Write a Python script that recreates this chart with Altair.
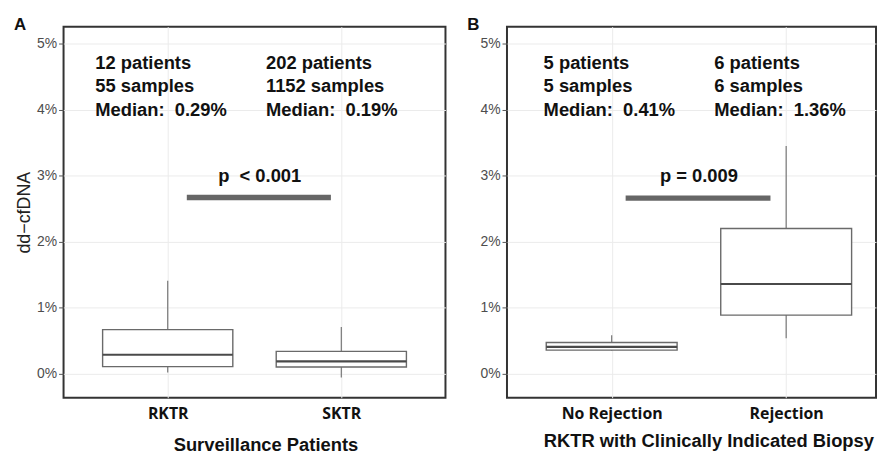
import altair as alt
import pandas as pd

# ---------------- data ----------------
# Panel A: surveillance patients
a_cats = ["RKTR", "SKTR"]
a_pos = [1, 2]
a_lower = [0.02, -0.055]
a_q1 = [0.11, 0.105]
a_median = [0.29, 0.19]
a_q3 = [0.67, 0.34]
a_upper = [1.41, 0.71]
a_patients = [12, 202]
a_samples = [55, 1152]
a_median_txt = ["0.29%", "0.19%"]
a_ann_x = [0.583, 1.566]
a_p_text = "p\u00a0 < 0.001"
a_p_bar = [1.11, 1.94, 2.67]   # x start, x end, y
a_p_text_pos = [1.53, 3.0]

# Panel B: RKTR with clinically indicated biopsy
b_cats = ["No Rejection", "Rejection"]
b_pos = [1, 2]
b_lower = [0.355, 0.54]
b_q1 = [0.36, 0.89]
b_median = [0.41, 1.36]
b_q3 = [0.475, 2.20]
b_upper = [0.585, 3.45]
b_patients = [5, 6]
b_samples = [5, 6]
b_median_txt = ["0.41%", "1.36%"]
b_ann_x = [0.61, 1.588]
b_p_text = "p = 0.009"
b_p_bar = [1.08, 1.91, 2.66]
b_p_text_pos = [1.50, 3.0]

y_major = [0, 1, 2, 3, 4, 5]
y_minor = [0.5, 1.5, 2.5, 3.5, 4.5]
ann_y = [4.70, 4.35, 4.00]

Y_DOM = [-0.36, 5.255]
SANS = "Liberation Sans"


def panel(cats, pos, lo, q1, med, q3, hi, pats, samps, medtxt, annx, ptext,
          pbar, ptpos, label, label_dx, xtitle, title_x, title_y, width, xmax,
          ytitle):
    box = pd.DataFrame({"cat": cats, "pos": pos, "lo": lo, "q1": q1,
                        "med": med, "q3": q3, "hi": hi})
    label_expr = " : ".join(
        [f"datum.value == {p} ? '{c}'" for p, c in zip(pos, cats)]) + " : ''"

    xscale = alt.Scale(domain=[0.4, xmax], nice=False, zero=False)
    yscale = alt.Scale(domain=Y_DOM, nice=False, zero=False)
    xaxis = alt.Axis(values=pos, labelExpr=label_expr, title=xtitle,
                     grid=True, gridColor="#ebebeb", domain=False, ticks=False,
                     labelFont="Open Sans", labelFontWeight="bold",
                     labelFontSize=16, labelColor="#111", labelPadding=8,
                     titleFont=SANS, titleFontWeight="bold", titleFontSize=18.5,
                     titleColor="#111", titleX=title_x, titleY=title_y,
                     titleAlign="center", titleBaseline="middle")
    yaxis_kw = dict(values=y_major + y_minor,
                    labelExpr="datum.value % 1 == 0 ? datum.value + '%' : ''",
                    grid=True,
                    gridColor={"condition": {"test": "datum.value % 1 != 0",
                                             "value": "#f3f3f3"},
                               "value": "#ebebeb"},
                    tickOpacity={"condition": {"test": "datum.value % 1 != 0",
                                               "value": 0}, "value": 1},
                    domain=False, tickSize=5, tickColor="#555",
                    labelFont=SANS, labelFontSize=14, labelColor="#4d4d4d",
                    labelPadding=2)
    if ytitle:
        yaxis = alt.Axis(title=ytitle, titleFont=SANS, titleFontSize=18,
                         titleFontWeight="normal", titleColor="#222",
                         titlePadding=3, **yaxis_kw)
    else:
        yaxis = alt.Axis(title=None, **yaxis_kw)

    base = alt.Chart(box).transform_calculate(
        xl="datum.pos - 0.375", xr="datum.pos + 0.375")

    whisk_hi = base.mark_rule(color="#777", strokeWidth=1.2).encode(
        x=alt.X("pos:Q", scale=xscale, axis=xaxis),
        y=alt.Y("q3:Q", scale=yscale, axis=yaxis),
        y2="hi:Q")
    whisk_lo = base.mark_rule(color="#777", strokeWidth=1.2).encode(
        x="pos:Q", y="lo:Q", y2="q1:Q")
    rect = base.mark_rect(fill="white", stroke="#6a6a6a", strokeWidth=1.4).encode(
        x="xl:Q", x2="xr:Q", y="q1:Q", y2="q3:Q")
    median = base.mark_rule(color="#4a4a4a", strokeWidth=2.2).encode(
        x="xl:Q", x2="xr:Q", y="med:Q")

    ann_rows = []
    for ax, n, s, m in zip(annx, pats, samps, medtxt):
        lines = [f"{n} patients", f"{s} samples", f"Median:\u00a0 {m}"]
        for yy, t in zip(ann_y, lines):
            ann_rows.append({"x": ax, "y": yy, "t": t})
    ann = alt.Chart(pd.DataFrame(ann_rows)).mark_text(
        align="left", baseline="middle", font=SANS, fontWeight="bold",
        fontSize=18.5, color="#111").encode(x="x:Q", y="y:Q", text="t:N")

    pdf = pd.DataFrame({"x1": [pbar[0]], "x2": [pbar[1]], "y": [pbar[2]],
                        "tx": [ptpos[0]], "ty": [ptpos[1]], "t": [ptext]})
    pline = alt.Chart(pdf).mark_rule(color="#666", strokeWidth=5.5,
                                     strokeCap="butt").encode(
        x="x1:Q", x2="x2:Q", y="y:Q")
    ptxt = alt.Chart(pdf).mark_text(
        align="center", baseline="middle", font=SANS, fontWeight="bold",
        fontSize=18.5, color="#111").encode(x="tx:Q", y="ty:Q", text="t:N")

    # panel letter (A / B), placed at the upper-left outside the panel
    lab = alt.Chart(pd.DataFrame({"t": [label]})).mark_text(
        align="left", baseline="alphabetic", font=SANS, fontWeight="bold",
        fontSize=17, color="#111").encode(
        x=alt.value(label_dx), y=alt.value(3), text="t:N")

    return alt.layer(whisk_hi, whisk_lo, rect, median, ann, pline, ptxt,
                     lab).properties(width=width, height=374)


pa = panel(a_cats, a_pos, a_lower, a_q1, a_median, a_q3, a_upper, a_patients,
           a_samples, a_median_txt, a_ann_x, a_p_text, a_p_bar, a_p_text_pos,
           "A", -50, "Surveillance Patients", 203.5, 47, 385, 2.6,
           "dd\u2212cfDNA")
pb = panel(b_cats, b_pos, b_lower, b_q1, b_median, b_q3, b_upper, b_patients,
           b_samples, b_median_txt, b_ann_x, b_p_text, b_p_bar, b_p_text_pos,
           "B", -40, "RKTR with Clinically Indicated Biopsy", 203, 43, 372,
           0.4 + 372 / 175.9, None)

chart = alt.hconcat(pa, pb, spacing=20).configure(
    padding={"left": 5, "top": 5, "right": 0, "bottom": 0},
    background="white",
    view=alt.ViewConfig(stroke="#333", strokeWidth=2))

chart.save("out.html", embed_options={"renderer": "svg", "actions": False})
